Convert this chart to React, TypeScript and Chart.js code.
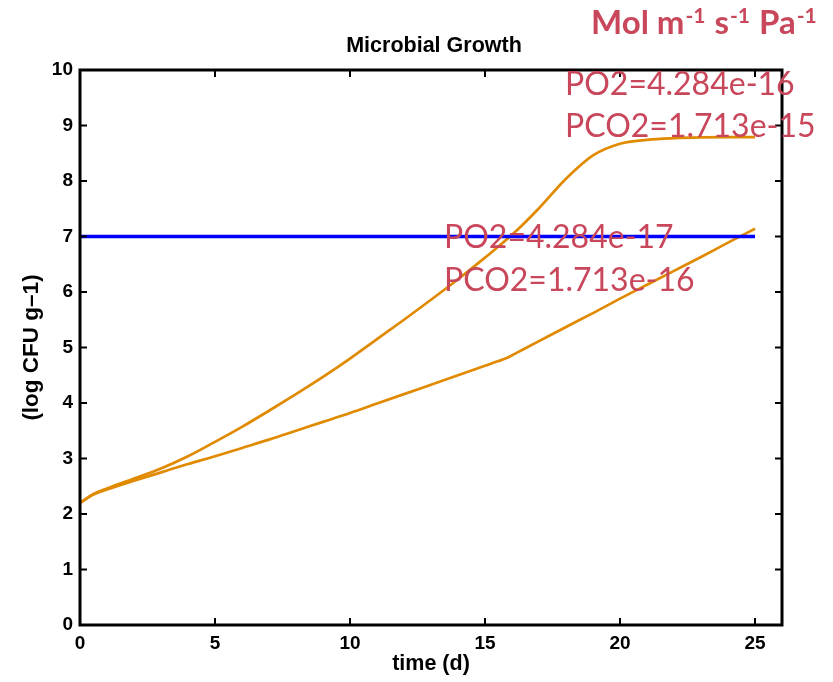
import React, { useEffect, useRef } from "react";
import { Chart, registerables } from "chart.js";

Chart.register(...registerables);

// ---- data ----
const upperTime = [0, 0.5, 1, 2, 3, 4, 5, 6, 7, 8, 9, 10, 11, 12, 13, 14, 15, 16, 17, 18, 19, 20, 21, 22, 23, 24, 25];
const upperLog = [2.2, 2.36, 2.46, 2.64, 2.82, 3.04, 3.3, 3.57, 3.86, 4.16, 4.47, 4.8, 5.15, 5.5, 5.86, 6.23, 6.62, 7.03, 7.51, 8.04, 8.46, 8.67, 8.74, 8.77, 8.785, 8.79, 8.79];
const lowerTime = [0, 0.5, 1, 2, 3, 4, 5, 6, 7, 8, 9, 10, 11, 12, 13, 14, 15, 15.5, 15.8, 16.1, 17, 18, 19, 20, 21, 22, 23, 24, 25];
const lowerLog = [2.2, 2.35, 2.44, 2.6, 2.75, 2.9, 3.04, 3.19, 3.34, 3.5, 3.66, 3.82, 3.99, 4.16, 4.33, 4.5, 4.67, 4.755, 4.81, 4.885, 5.115, 5.37, 5.62, 5.88, 6.13, 6.38, 6.63, 6.89, 7.14];
const thresholdTime = [0, 25];
const thresholdLog = [7, 7];

const xTicks = [0, 5, 10, 15, 20, 25];
const yTicks = [0, 1, 2, 3, 4, 5, 6, 7, 8, 9, 10];

const chartTitle = "Microbial Growth";
const xTitle = "time (d)";
const yTitle = "(log CFU g–1)";
const unitParts = [
  { text: "Mol m", sup: "-1" },
  { text: " s", sup: "-1" },
  { text: " Pa", sup: "-1" },
];
const highLabels = ["PO2=4.284e-16", "PCO2=1.713e-15"];
const lowLabels = ["PO2=4.284e-17", "PCO2=1.713e-16"];

const ORANGE = "#E08A00";
const BLUE = "#0000FF";
const RED = "#C8475B";
const AXIS_FONT = '"Liberation Sans", Arial, sans-serif';
const NOTE_FONT = 'Lato, "Open Sans", sans-serif';

const toPoints = (xs: number[], ys: number[]) => xs.map((x, i) => ({ x, y: ys[i] }));

const framePlugin = {
  id: "frameAndNotes",
  afterDraw(chart: any) {
    const { ctx, chartArea: a, scales } = chart;
    const xs = scales.x;
    const ys = scales.y;
    ctx.save();
    ctx.strokeStyle = "#000";
    ctx.lineWidth = 2;
    const tl = 7;
    const line = (x1: number, y1: number, x2: number, y2: number) => {
      ctx.beginPath();
      ctx.moveTo(x1, y1);
      ctx.lineTo(x2, y2);
      ctx.stroke();
    };
    for (const v of xTicks) {
      const px = xs.getPixelForValue(v);
      line(px, a.bottom, px, a.bottom - tl);
      line(px, a.top, px, a.top + tl);
    }
    for (const v of yTicks) {
      const py = ys.getPixelForValue(v);
      line(a.left, py, a.left + tl, py);
      line(a.right, py, a.right - tl, py);
    }
    ctx.lineWidth = 3;
    ctx.strokeRect(a.left, a.top, a.right - a.left, a.bottom - a.top);

    // title
    ctx.fillStyle = "#000";
    ctx.font = `bold 21.5px ${AXIS_FONT}`;
    ctx.textAlign = "center";
    ctx.textBaseline = "alphabetic";
    ctx.fillText(chartTitle, (a.left + a.right) / 2 + 3, 52);

    // units
    ctx.fillStyle = RED;
    ctx.textAlign = "left";
    let cx = 591;
    for (const p of unitParts) {
      ctx.font = `bold 33px ${NOTE_FONT}`;
      ctx.fillText(p.text, cx, 34);
      cx += ctx.measureText(p.text).width + 1;
      ctx.font = `bold 21px ${NOTE_FONT}`;
      ctx.fillText(p.sup, cx, 23);
      cx += ctx.measureText(p.sup).width + 1;
    }

    // notes
    ctx.font = `32px ${NOTE_FONT}`;
    ctx.fillText(highLabels[0], 565, 95, 232);
    ctx.fillText(highLabels[1], 565, 137, 252);
    ctx.fillText(lowLabels[0], 444, 248, 232);
    ctx.fillText(lowLabels[1], 444, 291, 252);
    ctx.restore();
  },
};

export default function App() {
  const ref = useRef<HTMLCanvasElement | null>(null);
  useEffect(() => {
    if (!ref.current) return;
    const chart = new Chart(ref.current, {
      type: "line",
      data: {
        datasets: [
          {
            label: "threshold",
            data: toPoints(thresholdTime, thresholdLog),
            borderColor: BLUE,
            borderWidth: 3.5,
            pointRadius: 0,
            tension: 0,
          },
          {
            label: "high permeability",
            data: toPoints(upperTime, upperLog),
            borderColor: ORANGE,
            borderWidth: 2.7,
            pointRadius: 0,
            cubicInterpolationMode: "monotone",
          },
          {
            label: "low permeability",
            data: toPoints(lowerTime, lowerLog),
            borderColor: ORANGE,
            borderWidth: 2.7,
            pointRadius: 0,
            cubicInterpolationMode: "monotone",
          },
        ],
      },
      options: {
        animation: false,
        responsive: false,
        devicePixelRatio: 1,
        layout: { padding: { top: 70, right: 51, left: 0, bottom: 0 } },
        plugins: { legend: { display: false }, tooltip: { enabled: false }, title: { display: false } },
        scales: {
          x: {
            type: "linear",
            min: 0,
            max: 26,
            grid: { display: false, drawTicks: false },
            border: { display: false },
            ticks: {
              stepSize: 5,
              includeBounds: false,
              padding: 7,
              color: "#000",
              font: { family: AXIS_FONT, size: 19, weight: "bold" },
              maxRotation: 0,
            },
            title: {
              display: true,
              text: xTitle,
              color: "#000",
              font: { family: AXIS_FONT, size: 21.5, weight: "bold" },
              padding: { top: 0, bottom: 5 },
            },
            afterFit: (s: any) => {
              s.height = 57;
            },
          },
          y: {
            type: "linear",
            min: 0,
            max: 10,
            grid: { display: false, drawTicks: false },
            border: { display: false },
            ticks: {
              stepSize: 1,
              padding: 7,
              color: "#000",
              font: { family: AXIS_FONT, size: 19, weight: "bold" },
            },
            title: {
              display: true,
              text: yTitle,
              color: "#000",
              font: { family: AXIS_FONT, size: 22.5, weight: "bold" },
              padding: { top: 18, bottom: 0 },
            },
            afterFit: (s: any) => {
              s.width = 80;
            },
          },
        },
      } as any,
      plugins: [framePlugin],
    });
    return () => chart.destroy();
  }, []);
  return (
    <div style={{ position: "absolute", left: 0, top: 0, width: 833, height: 682, background: "#fff" }}>
      <canvas ref={ref} width={833} height={682} />
    </div>
  );
}
